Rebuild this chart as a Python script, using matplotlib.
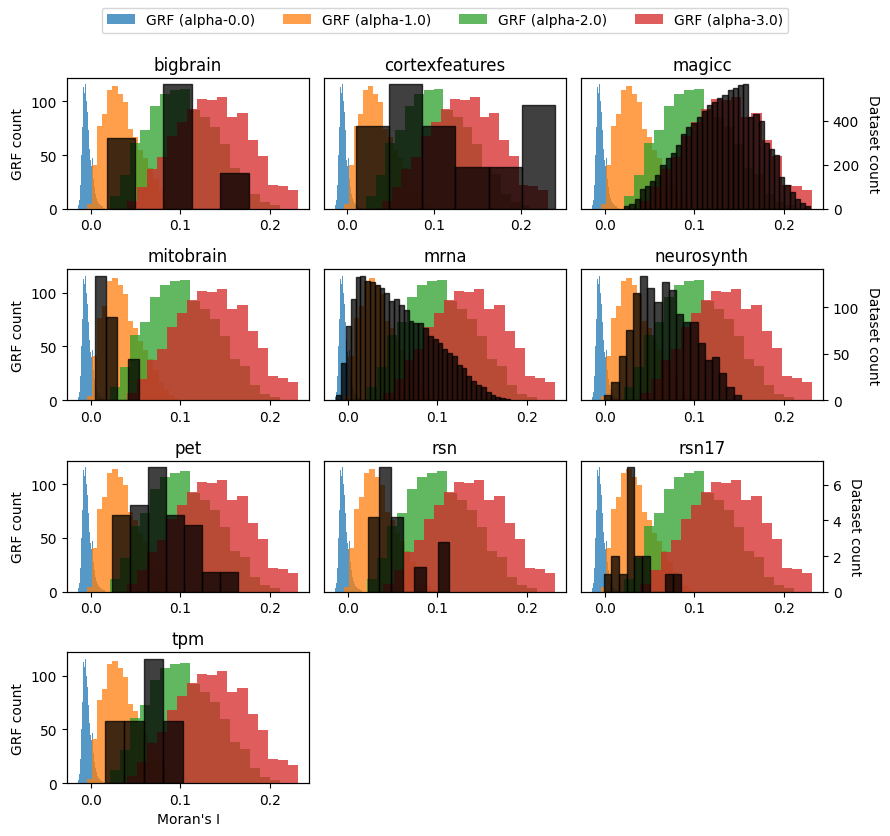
import numpy as np
import matplotlib.pyplot as plt

# GRF null distributions (same in every panel), bin range + counts
grf_labels = ["GRF (alpha-0.0)", "GRF (alpha-1.0)", "GRF (alpha-2.0)", "GRF (alpha-3.0)"]
grf_colors = ["tab:blue", "tab:orange", "tab:green", "tab:red"]

grf0_range = (-0.0140, 0.0157)
grf0 = [3, 8, 22, 50, 76, 113, 108, 116, 100, 90, 73, 56, 45, 40, 47, 28,
        20, 14, 10, 7, 5, 4, 3, 2, 2, 1, 1]
grf1_range = (-0.0041, 0.0985)
grf1 = [4, 41, 77, 88, 111, 114, 107, 99, 74, 67, 55, 47, 38, 28, 18, 10, 5, 2]
grf2_range = (0.0215, 0.2107)
grf2 = [12, 31, 61, 73, 96, 107, 111, 112, 92, 85, 76, 60, 38, 32, 14, 6, 3]
grf3_range = (0.040, 0.231)
grf3 = [7, 20, 37, 48, 68, 81, 93, 102, 101, 104, 85, 89, 64, 49, 22, 21, 17]

grf_ranges = [grf0_range, grf1_range, grf2_range, grf3_range]
grf_counts = [grf0, grf1, grf2, grf3]

# dataset histograms, one per panel
names = ["bigbrain", "cortexfeatures", "magicc", "mitobrain", "mrna",
         "neurosynth", "pet", "rsn", "rsn17", "tpm"]

bigbrain_range = (0.018, 0.176)
bigbrain = [4, 0, 7, 0, 2]
cortexfeatures_range = (0.0099, 0.239)
cortexfeatures = [4, 6, 4, 2, 2, 5]
magicc_range = (0.022, 0.229)
magicc = [10, 22, 45, 88, 105, 125, 152, 200, 232, 255, 290, 340, 372, 392,
          418, 445, 472, 485, 505, 520, 540, 552, 563, 567, 418, 432, 400,
          300, 274, 245, 145, 106, 76, 45, 25, 12]
mitobrain_range = (0.0052, 0.0544)
mitobrain = [3, 2, 0, 1]
mrna_range = (-0.0126, 0.1807)
mrna = [5, 37, 74, 101, 123, 124, 119, 118, 115, 112, 107, 99, 101, 95, 90,
        79, 77, 77, 72, 64, 61, 57, 51, 47, 44, 35, 32, 24, 19, 15, 13, 8, 5,
        3, 2, 1]
neurosynth_range = (-0.0004, 0.1516)
neurosynth = [5, 20, 48, 76, 115, 134, 121, 106, 127, 119, 93, 84, 84, 61,
              43, 46, 29, 14, 5]
pet_range = (0.0237, 0.1637)
pet = [8, 9, 13, 8, 7, 2, 2]
rsn_range = (0.0222, 0.1132)
rsn = [3, 5, 3, 0, 1, 0, 2]
rsn17_range = (-0.0011, 0.0849)
rsn17 = [1, 2, 1, 7, 2, 2, 0, 0, 1, 1]
tpm_range = (0.0156, 0.1029)
tpm = [1, 1, 2, 1]

ds_ranges = [bigbrain_range, cortexfeatures_range, magicc_range, mitobrain_range,
             mrna_range, neurosynth_range, pet_range, rsn_range, rsn17_range,
             tpm_range]
ds_counts = [bigbrain, cortexfeatures, magicc, mitobrain, mrna, neurosynth,
             pet, rsn, rsn17, tpm]


def edges(rng, counts):
    return np.linspace(rng[0], rng[1], len(counts) + 1)


fig, axes = plt.subplots(4, 3, figsize=(8.9, 8.37))
fig.subplots_adjust(left=0.0753, right=0.9247, top=0.9056, bottom=0.0633,
                    wspace=0.062, hspace=0.466)

handles = []
for i, ax in enumerate(axes.flat):
    if i >= len(names):
        ax.axis("off")
        continue
    row, col = divmod(i, 3)

    for rng, cnt, color, label in zip(grf_ranges, grf_counts, grf_colors, grf_labels):
        b = edges(rng, cnt)
        _, _, patches = ax.hist(b[:-1], bins=b, weights=cnt, color=color,
                                alpha=0.75, label=label)
        if i == 0:
            handles.append(patches[0])

    tw = ax.twinx()
    b = edges(ds_ranges[i], ds_counts[i])
    tw.hist(b[:-1], bins=b, weights=ds_counts[i], color="black",
            edgecolor="black", alpha=0.75)

    ax.set_title(names[i])
    if col == 0:
        ax.set_ylabel("GRF count")
    else:
        ax.tick_params(left=False, labelleft=False)
    if col == 2:
        tw.set_ylabel("Dataset count", rotation=270, labelpad=15)
    else:
        tw.tick_params(right=False, labelright=False)
    if names[i] == "tpm":
        ax.set_xlabel("Moran's I")

fig.legend(handles, grf_labels, loc="upper center", ncol=4,
           bbox_to_anchor=(0.5, 0.998))

fig.savefig("out.png", dpi=100)
plt.close()
